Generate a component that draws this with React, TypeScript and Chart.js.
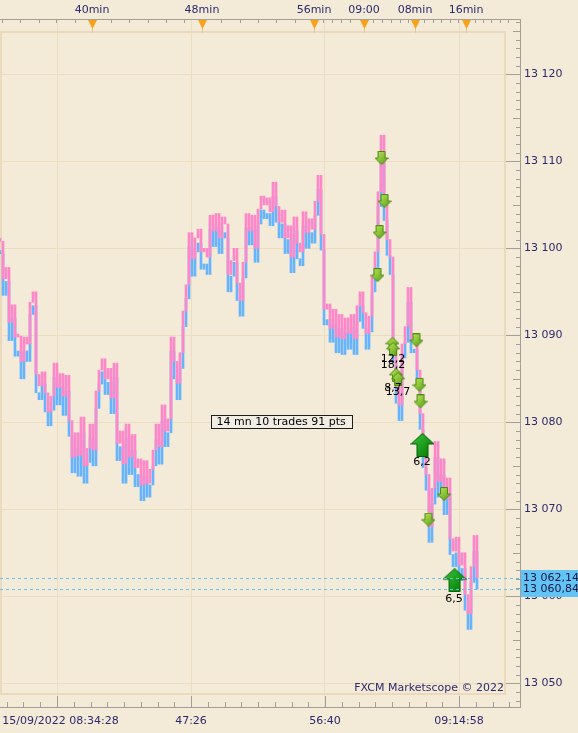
import React, { useEffect, useRef } from 'react';
import { Chart, registerables } from 'chart.js';

Chart.register(...registerables);

// ---------- data ----------
const askPrices = [
  13100.8, 13096.5, 13097.8, 13091.5, 13093.5, 13089.8, 13089.9, 13087.0, 13089.8, 13089.0,
  13093.8, 13095.0, 13085.5, 13084.2, 13085.8, 13083.4, 13081.2, 13083.0, 13086.8, 13084.0,
  13085.6, 13083.0, 13085.4, 13080.2, 13076.0, 13078.8, 13076.2, 13080.6, 13075.0, 13077.0,
  13079.8, 13076.8, 13083.6, 13086.0, 13087.3, 13085.0, 13086.2, 13082.8, 13086.8, 13077.6,
  13079.0, 13075.2, 13079.8, 13076.0, 13078.6, 13074.8, 13075.8, 13072.8, 13075.6, 13073.0,
  13074.6, 13076.8, 13079.8, 13077.2, 13082.0, 13079.0, 13080.4, 13089.8, 13087.0, 13084.5,
  13088.0, 13092.8, 13095.8, 13101.8, 13098.8, 13101.2, 13102.2, 13099.6, 13100.0, 13099.0,
  13103.8, 13102.0, 13104.0, 13101.2, 13103.6, 13102.8, 13097.0, 13098.6, 13100.0, 13096.0,
  13094.0, 13098.4, 13104.0, 13102.0, 13103.8, 13100.0, 13104.5, 13106.0, 13105.0, 13105.8,
  13104.2, 13107.6, 13104.8, 13103.0, 13104.4, 13101.2, 13102.6, 13099.0, 13103.6, 13100.6,
  13099.6, 13104.2, 13101.8, 13103.4, 13102.2, 13105.4, 13108.4, 13101.6, 13093.0, 13093.6,
  13090.8, 13093.0, 13089.8, 13092.4, 13089.6, 13092.0, 13090.2, 13092.4, 13089.6, 13093.4,
  13095.0, 13092.6, 13090.2, 13092.2, 13096.8, 13099.6, 13106.5, 13113.0, 13105.0, 13101.0,
  13099.0, 13088.6, 13084.0, 13082.0, 13089.0, 13091.0, 13095.5, 13089.6, 13090.2, 13086.0,
  13081.0, 13076.6, 13074.0, 13068.0, 13072.4, 13077.8, 13073.2, 13075.8, 13071.2, 13073.6,
  13066.6, 13065.2, 13066.8, 13063.6, 13065.0, 13060.2, 13058.0, 13063.4, 13067.0, 13062.14,
];

const bidPrices = [
  13099.4, 13094.6, 13096.2, 13089.4, 13092.0, 13087.6, 13088.2, 13085.0, 13088.2, 13087.0,
  13092.4, 13093.4, 13083.4, 13082.6, 13084.4, 13081.2, 13079.6, 13081.4, 13085.2, 13082.0,
  13084.2, 13080.8, 13083.6, 13078.4, 13074.2, 13077.0, 13073.8, 13078.8, 13073.0, 13075.4,
  13078.2, 13075.0, 13081.6, 13084.4, 13085.8, 13083.2, 13084.6, 13081.0, 13085.2, 13075.6,
  13077.2, 13073.0, 13078.2, 13074.0, 13076.8, 13072.6, 13074.0, 13071.0, 13073.8, 13071.4,
  13072.8, 13075.0, 13078.0, 13075.2, 13080.2, 13077.2, 13078.8, 13088.2, 13085.0, 13082.6,
  13086.2, 13091.0, 13094.2, 13100.2, 13096.8, 13099.6, 13100.6, 13097.6, 13098.2, 13097.0,
  13102.2, 13100.2, 13102.4, 13099.4, 13101.8, 13101.2, 13095.0, 13096.8, 13098.4, 13094.0,
  13092.2, 13096.6, 13102.4, 13100.4, 13102.2, 13098.4, 13102.8, 13104.4, 13103.4, 13104.0,
  13102.6, 13106.0, 13103.0, 13101.2, 13102.8, 13099.4, 13101.0, 13097.2, 13102.0, 13098.8,
  13098.0, 13102.6, 13100.0, 13101.8, 13100.6, 13103.8, 13106.8, 13099.8, 13091.2, 13091.8,
  13089.2, 13091.2, 13088.0, 13090.8, 13087.8, 13090.4, 13088.4, 13090.8, 13087.8, 13091.6,
  13093.4, 13090.8, 13088.4, 13090.4, 13095.0, 13097.8, 13104.8, 13110.4, 13103.2, 13099.2,
  13097.0, 13086.8, 13082.2, 13080.2, 13087.4, 13089.2, 13093.8, 13088.0, 13088.4, 13084.2,
  13079.2, 13074.8, 13072.2, 13066.2, 13070.6, 13076.0, 13071.4, 13074.0, 13069.4, 13071.8,
  13064.8, 13063.4, 13065.0, 13061.8, 13063.2, 13058.4, 13056.2, 13061.6, 13065.2, 13060.84,
];

const priceTicks = [13050, 13060, 13070, 13080, 13090, 13100, 13110, 13120];

const bottomTickIdx = [19, 63.67, 108.33, 153];
const bottomTickLabels = ['  15/09/2022 08:34:28', '47:26', '56:40', '09:14:58'];

const topTickIdx = [30.67, 67.33, 104.67, 121.33, 138.33, 155.33];
const topTickLabels = ['40min', '48min', '56min', '09:00', '08min', '16min'];
const topMinorIdx = [
  0.7, 6.7, 13.0, 18.7, 25.0, 37.0, 43.0, 49.3, 55.3, 61.3, 73.7, 80.0, 86.0, 92.0, 98.3,
  107.7, 110.7, 113.7, 116.7, 124.3, 127.3, 130.3, 133.3, 136.0, 141.3, 144.3, 147.0, 150.0,
  152.7, 158.3, 161.0, 163.7, 166.7, 169.3,
];

const sellX = [127.17, 128.17, 126.5, 125.83, 138.83, 139.83, 140.17, 148.0, 142.83];
const sellY = [13110.39, 13105.44, 13101.87, 13096.92, 13089.43, 13084.31, 13082.41, 13071.76, 13068.82];
const buyX = [130.83, 131.0, 132.0, 132.67];
const buyY = [13089.03, 13088.45, 13085.46, 13085.0];
const bigBuyX = [140.83, 151.5];
const bigBuyY = [13077.4, 13061.86];

const tradeLabelText = ['12,2', '18,2', '8,7', '13,7', '6,2', '6,5'];
const tradeLabelX = [131.0, 131.0, 131.0, 132.67, 140.67, 151.33];
const tradeLabelY = [13087.3, 13086.6, 13083.96, 13083.5, 13075.39, 13059.67];

const summaryText = '14 mn 10 trades 91 pts';
const summaryX = 93.7;
const summaryY = 13080.0;
const watermarkText = 'FXCM Marketscope \u00a9 2022';

const lastAsk = 13062.14;
const lastBid = 13060.84;

const X_MIN = 0;
const X_MAX = 173.33;
const Y_MIN = 13047.28;
const Y_MAX = 13126.36;

// ---------- style ----------
const FONT = "'DejaVu Sans', sans-serif";
const BG = '#f3ead7';
const GRID = '#ecdcc0';
const FRAME = '#ebd9bb';
const AXIS = '#a39e96';
const TEXT = '#2d2a6b';
const ASK_COLOR = '#ff86c8';
const BID_COLOR = '#66b4ff';
const CUR_COLOR = '#5cc3f5';

function fmtPrice(v: number, dec: number) {
  const s = v.toFixed(dec);
  const parts = s.split('.');
  const ip = parts[0].replace(/\B(?=(\d{3})+(?!\d))/g, ' ');
  return parts[1] ? ip + ',' + parts[1] : ip;
}

function makeArrow(w: number, h: number, sw: number, hh: number, up: boolean, c1: string, c2: string, stroke: string) {
  const c = document.createElement('canvas');
  c.width = w;
  c.height = h;
  const g = c.getContext('2d')!;
  const sx = (w - sw) / 2;
  g.beginPath();
  if (up) {
    g.moveTo(w / 2, 0.5);
    g.lineTo(w - 0.5, hh);
    g.lineTo(sx + sw, hh);
    g.lineTo(sx + sw, h - 0.5);
    g.lineTo(sx, h - 0.5);
    g.lineTo(sx, hh);
    g.lineTo(0.5, hh);
  } else {
    g.moveTo(sx, 0.5);
    g.lineTo(sx + sw, 0.5);
    g.lineTo(sx + sw, h - hh);
    g.lineTo(w - 0.5, h - hh);
    g.lineTo(w / 2, h - 0.5);
    g.lineTo(0.5, h - hh);
    g.lineTo(sx, h - hh);
  }
  g.closePath();
  const grad = g.createLinearGradient(0, 0, w, h);
  grad.addColorStop(0, c1);
  grad.addColorStop(1, c2);
  g.fillStyle = grad;
  g.fill();
  g.strokeStyle = stroke;
  g.lineWidth = 1;
  g.stroke();
  return c;
}

const decorPlugin = {
  id: 'decor',
  beforeDraw(chart: any) {
    const { ctx, width, height } = chart;
    ctx.save();
    ctx.fillStyle = BG;
    ctx.fillRect(0, 0, width, height);
    ctx.restore();
  },
  beforeDatasetsDraw(chart: any) {
    const { ctx, chartArea: a } = chart;
    ctx.save();
    ctx.strokeStyle = FRAME;
    ctx.lineWidth = 2;
    ctx.strokeRect(a.left + 1, a.top + 13, a.right - a.left - 16, a.bottom - a.top - 26);
    ctx.restore();
  },
  afterDatasetsDraw(chart: any) {
    const { ctx, chartArea: a } = chart;
    const xs = chart.scales.x;
    const ys = chart.scales.y;
    ctx.save();
    ctx.strokeStyle = CUR_COLOR;
    ctx.lineWidth = 1;
    ctx.setLineDash([3, 3]);
    [lastAsk, lastBid].forEach((p) => {
      const y = Math.round(ys.getPixelForValue(p)) + 0.5;
      ctx.beginPath();
      ctx.moveTo(a.left, y);
      ctx.lineTo(a.right, y);
      ctx.stroke();
    });
    ctx.setLineDash([]);

    ctx.font = `11px ${FONT}`;
    ctx.fillStyle = '#000';
    ctx.textAlign = 'center';
    ctx.textBaseline = 'middle';
    tradeLabelText.forEach((t, i) => {
      ctx.fillText(t, xs.getPixelForValue(tradeLabelX[i]), ys.getPixelForValue(tradeLabelY[i]));
    });

    const sx = xs.getPixelForValue(summaryX);
    const sy = ys.getPixelForValue(summaryY);
    const tw = ctx.measureText(summaryText).width;
    const bw = Math.round(tw + 12);
    const bx = Math.round(sx - bw / 2) + 0.5;
    const by = Math.round(sy - 7) + 0.5;
    ctx.fillStyle = '#f1ede4';
    ctx.fillRect(bx, by, bw, 13);
    ctx.strokeStyle = '#1e1e1e';
    ctx.strokeRect(bx, by, bw, 13);
    ctx.fillStyle = '#000';
    ctx.fillText(summaryText, sx, sy);

    ctx.fillStyle = TEXT;
    ctx.textAlign = 'right';
    ctx.textBaseline = 'middle';
    ctx.fillText(watermarkText, a.right - 16, a.bottom - 19);
    ctx.restore();
  },
  afterDraw(chart: any) {
    const { ctx, chartArea: a } = chart;
    const xs = chart.scales.x;
    const ys = chart.scales.y;
    ctx.save();
    ctx.strokeStyle = AXIS;
    ctx.lineWidth = 1;
    for (let v = Math.ceil(Y_MIN); v <= Math.floor(Y_MAX); v++) {
      const y = Math.round(ys.getPixelForValue(v)) + 0.5;
      const len = v % 10 === 0 ? 14 : v % 5 === 0 ? 7 : 4;
      ctx.beginPath();
      ctx.moveTo(a.right - len, y);
      ctx.lineTo(a.right, y);
      ctx.stroke();
    }
    const step = (bottomTickIdx[1] - bottomTickIdx[0]) / 8;
    for (let k = -8; k <= 40; k++) {
      const v = bottomTickIdx[0] + k * step;
      if (v < X_MIN || v > X_MAX) continue;
      const x = Math.round(xs.getPixelForValue(v)) + 0.5;
      const major = k % 8 === 0 && k >= 0 && k / 8 < bottomTickIdx.length;
      const len = major ? 11 : 5;
      ctx.beginPath();
      ctx.moveTo(x, a.bottom - len);
      ctx.lineTo(x, a.bottom);
      ctx.stroke();
    }
    topMinorIdx.forEach((v) => {
      const x = Math.round(xs.getPixelForValue(v)) + 0.5;
      ctx.beginPath();
      ctx.moveTo(x, a.top);
      ctx.lineTo(x, a.top + 4);
      ctx.stroke();
    });
    topTickIdx.forEach((v) => {
      const x = Math.round(xs.getPixelForValue(v));
      ctx.strokeStyle = '#e9c895';
      ctx.beginPath();
      ctx.moveTo(x + 0.5, a.top + 9);
      ctx.lineTo(x + 0.5, a.top + 14);
      ctx.stroke();
      ctx.fillStyle = '#f7a21b';
      ctx.beginPath();
      ctx.moveTo(x - 4, a.top + 1);
      ctx.lineTo(x + 5, a.top + 1);
      ctx.lineTo(x + 0.5, a.top + 10);
      ctx.closePath();
      ctx.fill();
    });
    const ya = ys.getPixelForValue(lastAsk);
    const yb = ys.getPixelForValue(lastBid);
    const top = Math.round(ya - 8);
    const bot = Math.round(yb + 8);
    ctx.fillStyle = '#62c4f6';
    ctx.fillRect(a.right + 1, top, chart.width - a.right - 1, bot - top);
    ctx.fillStyle = '#15153d';
    ctx.font = `11px ${FONT}`;
    ctx.textAlign = 'left';
    ctx.textBaseline = 'middle';
    ctx.fillText(fmtPrice(lastAsk, 2), a.right + 3, ya);
    ctx.fillText(fmtPrice(lastBid, 2), a.right + 3, yb);
    ctx.restore();
  },
};

export default function App() {
  const ref = useRef<HTMLCanvasElement>(null);
  useEffect(() => {
    document.body.style.margin = '0';
    document.body.style.background = BG;
    const sellImg = makeArrow(14, 14, 7, 7, false, '#c6ec62', '#4e9810', '#4a8a0c');
    const buyImg = makeArrow(14, 14, 7, 7, true, '#c6ec62', '#4e9810', '#4a8a0c');
    const bigBuyImg = makeArrow(24, 24, 11, 11, true, '#3cc83c', '#007400', '#006000');

    // each tick column spans from the previous quote to the current one
    const spanData = (arr: number[]) =>
      arr.map((v, i) => {
        const p = arr[i > 0 ? i - 1 : 0];
        return { x: i, y: [Math.min(p, v), Math.max(p, v)] };
      });
    const markData = (xa: number[], ya: number[]) => xa.map((x, i) => ({ x, y: ya[i] }));

    const chart = new Chart(ref.current as HTMLCanvasElement, {
      type: 'line',
      data: {
        datasets: [
          { data: markData(bigBuyX, bigBuyY), showLine: false, pointStyle: bigBuyImg as any, pointRadius: 6, xAxisID: 'x', yAxisID: 'y' },
          { data: markData(buyX, buyY), showLine: false, pointStyle: buyImg as any, pointRadius: 6, xAxisID: 'x', yAxisID: 'y' },
          { data: markData(sellX, sellY), showLine: false, pointStyle: sellImg as any, pointRadius: 6, xAxisID: 'x', yAxisID: 'y' },
          { type: 'bar', data: spanData(askPrices), backgroundColor: ASK_COLOR, borderWidth: 0, barThickness: 2, minBarLength: 3, grouped: false, xAxisID: 'x', yAxisID: 'y' },
          { type: 'bar', data: spanData(bidPrices), backgroundColor: BID_COLOR, borderWidth: 0, barThickness: 2, minBarLength: 3, grouped: false, xAxisID: 'x', yAxisID: 'y' },
        ] as any,
      },
      options: {
        animation: false,
        responsive: false,
        devicePixelRatio: 1,
        events: [],
        layout: { padding: 0, autoPadding: false },
        font: { family: FONT, size: 11 } as any,
        plugins: { legend: { display: false }, tooltip: { enabled: false }, title: { display: false } },
        scales: {
          x: {
            type: 'linear',
            position: 'bottom',
            min: X_MIN,
            max: X_MAX,
            offset: false,
            afterBuildTicks: (s: any) => { s.ticks = bottomTickIdx.map((v) => ({ value: v })); },
            afterFit: (s: any) => { s.height = 26; s.paddingLeft = 0; s.paddingRight = 0; },
            grid: { color: GRID, drawTicks: false, lineWidth: 1, offset: false },
            border: { display: true, color: AXIS },
            ticks: {
              padding: 8,
              color: TEXT,
              maxRotation: 0,
              autoSkip: false,
              font: { family: FONT, size: 11 },
              callback: (_v: any, i: number) => bottomTickLabels[i],
            },
          },
          xTop: {
            type: 'linear',
            axis: 'x',
            position: 'top',
            min: X_MIN,
            max: X_MAX,
            offset: false,
            afterBuildTicks: (s: any) => { s.ticks = topTickIdx.map((v) => ({ value: v })); },
            afterFit: (s: any) => { s.height = 19; s.paddingLeft = 0; s.paddingRight = 0; },
            grid: { display: false, drawTicks: false },
            border: { display: true, color: AXIS },
            ticks: {
              padding: 2,
              color: TEXT,
              maxRotation: 0,
              autoSkip: false,
              font: { family: FONT, size: 11 },
              callback: (_v: any, i: number) => topTickLabels[i],
            },
          },
          y: {
            type: 'linear',
            position: 'right',
            min: Y_MIN,
            max: Y_MAX,
            beginAtZero: false,
            afterBuildTicks: (s: any) => { s.ticks = priceTicks.map((v) => ({ value: v })); },
            afterFit: (s: any) => { s.width = 58; },
            grid: { color: GRID, drawTicks: false, lineWidth: 1 },
            border: { display: true, color: AXIS },
            ticks: {
              padding: 4,
              color: TEXT,
              autoSkip: false,
              font: { family: FONT, size: 11 },
              callback: (v: any) => fmtPrice(Number(v), 0),
            },
          },
        } as any,
      },
      plugins: [decorPlugin as any],
    });
    return () => chart.destroy();
  }, []);
  return <canvas ref={ref} width={578} height={733} style={{ display: 'block', width: 578, height: 733 }} />;
}
